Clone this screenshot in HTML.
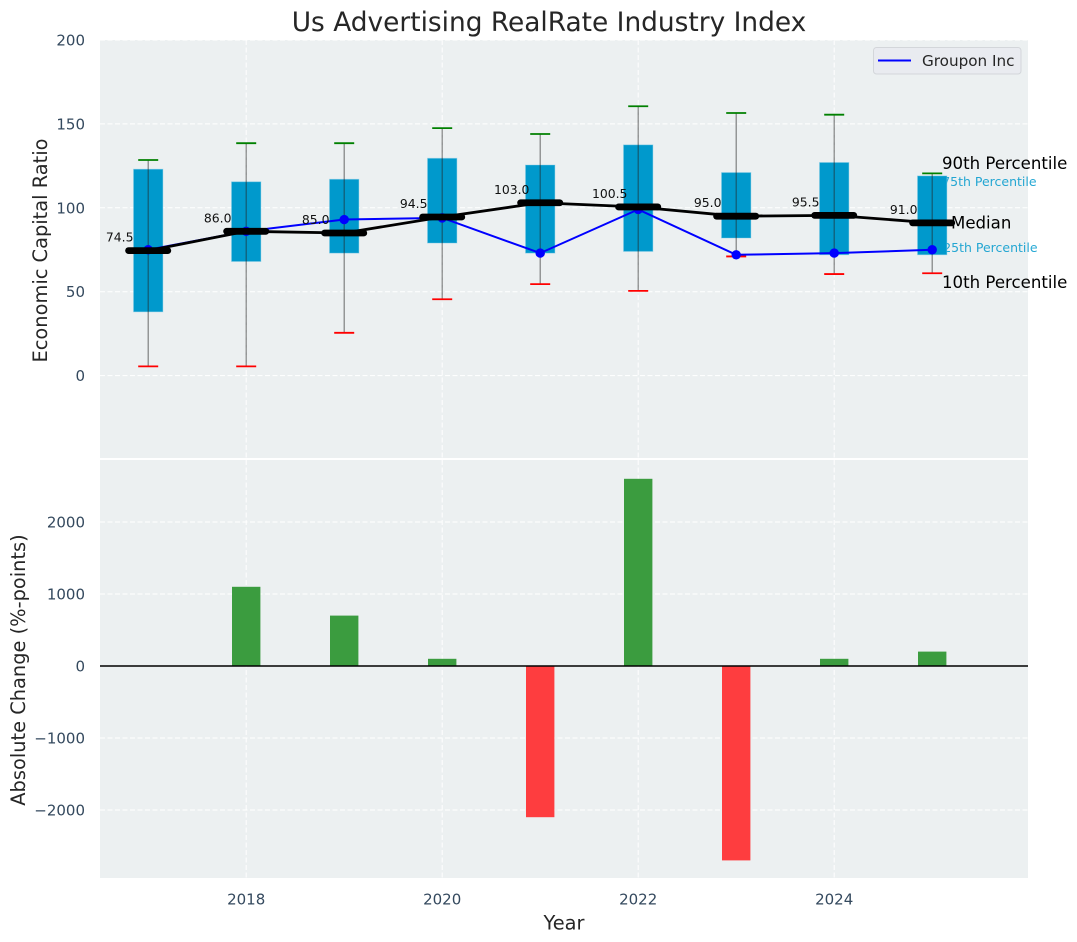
<!DOCTYPE html>
<html>
<head>
<meta charset="utf-8">
<style>
html,body{margin:0;padding:0;background:#fff;}
svg{display:block;font-family:"DejaVu Sans","Liberation Sans",sans-serif;}
</style>
</head>
<body>
<svg id="chart" xmlns="http://www.w3.org/2000/svg" width="1077" height="942" viewBox="0 0 1077 942"></svg>
<script>
const years = [2017, 2018, 2019, 2020, 2021, 2022, 2023, 2024, 2025];
const p90 = [128.5, 138.5, 138.5, 147.5, 144, 160.5, 156.5, 155.5, 120.5];
const p75 = [123, 115.5, 117, 129.5, 125.5, 137.5, 121, 127, 119];
const medianValues = [74.5, 86, 85, 94.5, 103, 100.5, 95, 95.5, 91];
const p25 = [38, 68, 73, 79, 73, 74, 82, 72, 72];
const p10 = [5.5, 5.5, 25.5, 45.5, 54.5, 50.5, 71, 60.5, 61];
const groupon = [75, 86, 93, 94, 73, 99, 72, 73, 75];
const changes = [0, 1100, 700, 100, -2100, 2600, -2700, 100, 200];
const topTicks = [0, 50, 100, 150, 200];
const bottomTicks = [-2000, -1000, 0, 1000, 2000];
const xTicks = [2018, 2020, 2022, 2024];

const NS = 'http://www.w3.org/2000/svg';
const svg = document.getElementById('chart');
const L = 100, R = 1028;
const T1 = 40, B1 = 458, T2 = 460, B2 = 878;
const X = y => 246.2 + (y - 2018) * 98;
const Y1 = v => 375.6 - v * 1.678;
const Y2 = v => 666 - v * 0.072;
const TICK = '#34495e', DARK = '#262626', BOX = '#0099cc';

function mk(tag, attrs, text) {
  const el = document.createElementNS(NS, tag);
  for (const k in attrs) el.setAttribute(k, attrs[k]);
  if (text !== undefined) el.textContent = text;
  svg.appendChild(el);
  return el;
}
function line(x1, y1, x2, y2, stroke, w, extra) {
  return mk('line', Object.assign({x1, y1, x2, y2, stroke, 'stroke-width': w}, extra || {}));
}
function fmt(v) { return String(v).replace('-', '\u2212'); }
const dash = {'stroke-dasharray': '5 2.5'};
let el;

el = mk('rect', {x: L, y: T1, width: R - L, height: B1 - T1, fill: '#ecf0f1'});


el = mk('rect', {x: L, y: T2, width: R - L, height: B2 - T2, fill: '#ecf0f1'});



xTicks.forEach(t => {
  el = line(X(t), T1, X(t), B1, '#fff', 1, dash);
  
  
  el = line(X(t), T2, X(t), B2, '#fff', 1, dash);
  
  
  el = mk('text', {x: X(t), y: 904.5, 'text-anchor': 'middle', 'font-size': 15, fill: TICK}, String(t));
  
  
});
topTicks.forEach(t => {
  el = line(L, Y1(t), R, Y1(t), '#fff', 1, dash);
  
  
  el = mk('text', {x: 85, y: Y1(t) + 5.5, 'text-anchor': 'end', 'font-size': 15, fill: TICK}, fmt(t));
  
  
});
bottomTicks.forEach(t => {
  el = line(L, Y2(t), R, Y2(t), '#fff', 1, dash);
  
  
  el = mk('text', {x: 85, y: Y2(t) + 5.5, 'text-anchor': 'end', 'font-size': 15, fill: TICK}, fmt(t));
  
  
});

const lastX = X(years[years.length - 1]);
el = mk('text', {x: lastX + 10, y: Y1(p75[p75.length - 1]) + 10, 'font-size': 12.5, fill: BOX, 'fill-opacity': 0.85}, '75th Percentile');


el = mk('text', {x: lastX + 11, y: Y1(p25[p25.length - 1]) - 3, 'font-size': 12.5, fill: BOX, 'fill-opacity': 0.85}, '25th Percentile');



years.forEach((y, i) => {
  const x = X(y);
  el = mk('rect', {x: x - 14.7, y: Y1(p75[i]), width: 29.4, height: Y1(p25[i]) - Y1(p75[i]), fill: BOX, stroke: '#7fcbe5', 'stroke-opacity': 0.4, 'stroke-width': 1});
  
  
  el = line(x, Y1(p10[i]), x, Y1(p90[i]), '#222', 1.2, {'stroke-opacity': 0.55});
  
  
  el = line(x - 10, Y1(p90[i]), x + 10, Y1(p90[i]), 'green', 1.8);
  
  
  el = line(x - 10, Y1(p10[i]), x + 10, Y1(p10[i]), 'red', 1.8);
  
  
});

el = mk('polyline', {points: years.map((y, i) => X(y) + ',' + Y1(groupon[i])).join(' '), fill: 'none', stroke: '#0000ff', 'stroke-width': 2});


years.forEach((y, i) => {
  el = mk('circle', {cx: X(y), cy: Y1(groupon[i]), r: 4.7, fill: '#0000ff'});
  
  
});

el = mk('polyline', {points: years.map((y, i) => X(y) + ',' + Y1(medianValues[i])).join(' '), fill: 'none', stroke: '#000', 'stroke-width': 2.8});


years.forEach((y, i) => {
  el = line(X(y) - 19.6, Y1(medianValues[i]), X(y) + 19.6, Y1(medianValues[i]), '#000', 6.8, {'stroke-linecap': 'round'});
  
  
  el = mk('text', {x: X(y) - 28.5, y: Y1(medianValues[i]) - 9, 'text-anchor': 'middle', 'font-size': 12.4, fill: '#111'}, medianValues[i].toFixed(1));
  
  
});

el = mk('text', {x: 942, y: 169, 'font-size': 16.6, fill: '#000'}, '90th Percentile');


el = mk('text', {x: 951, y: 228.5, 'font-size': 16.6, fill: '#000'}, 'Median');


el = mk('text', {x: 942, y: 288, 'font-size': 16.6, fill: '#000'}, '10th Percentile');



years.forEach((y, i) => {
  const v = changes[i];
  if (v === 0) return;
  el = mk('rect', {x: X(y) - 14.2, y: Math.min(Y2(v), Y2(0)), width: 28.4, height: Math.abs(Y2(v) - Y2(0)), fill: v > 0 ? '#3b9c3f' : '#fe3d3f'});
  
  
});
el = line(L, Y2(0), R, Y2(0), '#000', 1.4);



el = mk('rect', {x: 873.5, y: 47.5, width: 147.5, height: 26.5, rx: 3, fill: '#e9ebf0', stroke: '#d3d6da', 'stroke-width': 1});


el = line(878, 60.5, 911, 60.5, '#0000ff', 2);


el = mk('text', {x: 922, y: 66, 'font-size': 15.2, fill: DARK}, 'Groupon Inc');



el = mk('text', {x: 549, y: 31, 'text-anchor': 'middle', 'font-size': 26.4, fill: DARK}, 'Us Advertising RealRate Industry Index');


el = mk('text', {x: 564, y: 929.5, 'text-anchor': 'middle', 'font-size': 19.4, fill: DARK}, 'Year');


el = mk('text', {transform: 'translate(47 250.5) rotate(-90)', 'text-anchor': 'middle', 'font-size': 19.4, fill: DARK}, 'Economic Capital Ratio');


el = mk('text', {transform: 'translate(25 670) rotate(-90)', 'text-anchor': 'middle', 'font-size': 19.4, fill: DARK}, 'Absolute Change (%-points)');


</script>
</body>
</html>
